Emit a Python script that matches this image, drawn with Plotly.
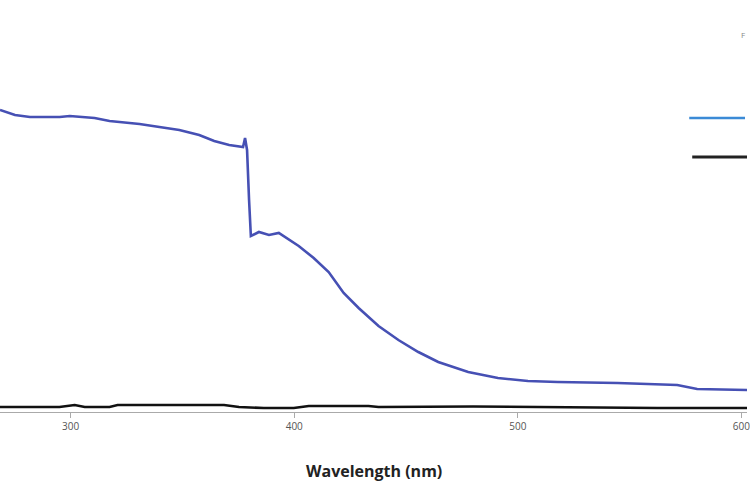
import plotly.graph_objects as go

# Data
wl_blue = [268.4, 275.1, 281.8, 295.1, 299.6, 310.7, 317.4, 330.8, 339.7, 348.6, 357.5,
           364.2, 370.9, 377.1, 378.0, 378.9, 379.8, 380.6, 384.2, 388.7, 393.1, 396.7,
           402.0, 408.7, 415.4, 422.1, 428.8, 437.7, 446.6, 455.5, 464.4, 477.8, 491.1,
           504.5, 517.8, 544.6, 571.3, 580.2, 602.5]
abs_blue = [3.02, 2.97, 2.95, 2.95, 2.96, 2.94, 2.91, 2.88, 2.85, 2.82, 2.77,
            2.71, 2.67, 2.65, 2.74, 2.62, 2.12, 1.76, 1.80, 1.77, 1.79, 1.74,
            1.66, 1.54, 1.40, 1.19, 1.04, 0.86, 0.72, 0.60, 0.50, 0.40, 0.34,
            0.31, 0.30, 0.29, 0.27, 0.23, 0.22]

wl_black = [268.4, 295.0, 301.8, 306.3, 317.4, 321.0, 368.6, 375.3, 386.4, 399.8,
            406.5, 433.2, 437.7, 477.8, 480.0, 562.4, 602.5]
abs_black = [0.05, 0.05, 0.07, 0.05, 0.05, 0.07, 0.07, 0.05, 0.04, 0.04,
             0.06, 0.06, 0.05, 0.05, 0.055, 0.04, 0.04]

tick_vals = [300, 400, 500, 600]
tick_text = ["300", "400", "500", "600"]

W, H = 750, 499
AX_Y = 412               # axis line position in pixels
PLOT_H = AX_Y


def px(x):
    return x / W


def py(y):
    return (AX_Y - y) / PLOT_H


fig = go.Figure()
fig.add_trace(go.Scatter(x=wl_blue, y=abs_blue, mode="lines",
                         line=dict(color="#4650b4", width=2.6), showlegend=False,
                         hoverinfo="skip"))
fig.add_trace(go.Scatter(x=wl_black, y=abs_black, mode="lines",
                         line=dict(color="#111111", width=2.6), showlegend=False,
                         hoverinfo="skip"))

fig.update_layout(
    width=W, height=H,
    margin=dict(l=0, r=0, t=0, b=H - PLOT_H),
    paper_bgcolor="white", plot_bgcolor="white",
    xaxis=dict(range=[268.4, 602.5], tickvals=tick_vals, ticktext=tick_text,
               showgrid=False, zeroline=False, showline=True, linecolor="#aaaaaa",
               linewidth=1, ticks="outside", ticklen=5, tickcolor="#aaaaaa",
               ticklabeloverflow="allow",
               tickfont=dict(family="Open Sans", size=10, color="#555555")),
    yaxis=dict(range=[0, 4.12], visible=False),
    annotations=[
        dict(text="<b>Wavelength (nm)</b>", xref="paper", yref="paper",
             x=px(375), y=py(471), xanchor="center", yanchor="middle",
             showarrow=False, font=dict(family="Open Sans", size=16, color="#222222")),
        dict(text="F", xref="paper", yref="paper", x=px(750), y=py(35),
             xanchor="right", yanchor="middle", showarrow=False,
             font=dict(family="Open Sans", size=8, color="#888888")),
    ],
    shapes=[
        dict(type="line", xref="paper", yref="paper", x0=px(692), x1=px(748),
             y0=py(118), y1=py(118), line=dict(color="#3b8ad6", width=2.5)),
        dict(type="line", xref="paper", yref="paper", x0=px(695), x1=1.0,
             y0=py(157), y1=py(157), line=dict(color="#222222", width=3)),
    ],
)

fig.write_html("out.html",
               config={"displayModeBar": False, "staticPlot": True},
               post_script="document.body.style.margin='0';"
                           "document.body.style.overflow='hidden';")
